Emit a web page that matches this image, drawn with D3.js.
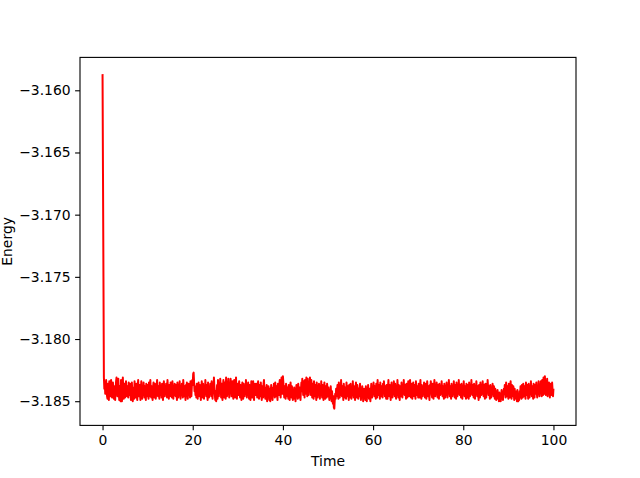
<!DOCTYPE html>
<html>
<head>
<meta charset="utf-8">
<script src="https://cdn.jsdelivr.net/npm/d3@7/dist/d3.min.js"></script>
<style>
  html, body { margin: 0; padding: 0; background: #fff; }
  svg { display: block; }
  text { font-family: "DejaVu Sans", sans-serif; }
</style>
</head>
<body>
<svg id="chart" width="640" height="478"></svg>
<script>
// ---- Data ----
const timeStart = 0;
const timeStep = 0.1;
const energy = [
  -3.1587,
  -3.1668,-3.1750,-3.1831,-3.1840,-3.1835,-3.1844,-3.1838,-3.1833,-3.1842,-3.1846,
  -3.1848,-3.1836,-3.1843,-3.1849,-3.1834,-3.1841,-3.1846,-3.1837,-3.1833,-3.1844,
  -3.1847,-3.1839,-3.1835,-3.1842,-3.1848,-3.1838,-3.1844,-3.1849,-3.1840,-3.1834,
  -3.1831,-3.1840,-3.1846,-3.1836,-3.1832,-3.1843,-3.1849,-3.1838,-3.1845,-3.1850,
  -3.1833,-3.1844,-3.1850,-3.1839,-3.1831,-3.1842,-3.1848,-3.1836,-3.1841,-3.1847,
  -3.1837,-3.1834,-3.1843,-3.1846,-3.1838,-3.1842,-3.1847,-3.1835,-3.1840,-3.1845,
  -3.1836,-3.1844,-3.1849,-3.1841,-3.1835,-3.1843,-3.1850,-3.1846,-3.1839,-3.1848,
  -3.1834,-3.1840,-3.1847,-3.1843,-3.1836,-3.1845,-3.1849,-3.1838,-3.1833,-3.1842,
  -3.1846,-3.1837,-3.1844,-3.1849,-3.1840,-3.1834,-3.1843,-3.1848,-3.1839,-3.1845,
  -3.1835,-3.1842,-3.1847,-3.1838,-3.1844,-3.1849,-3.1836,-3.1841,-3.1846,-3.1837,
  -3.1843,-3.1848,-3.1835,-3.1840,-3.1846,-3.1833,-3.1842,-3.1847,-3.1838,-3.1844,
  -3.1849,-3.1839,-3.1835,-3.1843,-3.1847,-3.1836,-3.1841,-3.1848,-3.1844,-3.1837,
  -3.1833,-3.1842,-3.1846,-3.1838,-3.1844,-3.1848,-3.1835,-3.1840,-3.1845,-3.1839,
  -3.1847,-3.1836,-3.1842,-3.1849,-3.1840,-3.1834,-3.1843,-3.1846,-3.1838,-3.1844,
  -3.1836,-3.1841,-3.1847,-3.1833,-3.1839,-3.1845,-3.1848,-3.1837,-3.1843,-3.1846,
  -3.1835,-3.1844,-3.1840,-3.1847,-3.1834,-3.1842,-3.1848,-3.1838,-3.1845,-3.1836,
  -3.1841,-3.1846,-3.1837,-3.1843,-3.1849,-3.1835,-3.1840,-3.1847,-3.1839,-3.1844,
  -3.1834,-3.1843,-3.1848,-3.1838,-3.1845,-3.1836,-3.1842,-3.1847,-3.1833,-3.1840,
  -3.1846,-3.1838,-3.1844,-3.1849,-3.1837,-3.1842,-3.1835,-3.1843,-3.1848,-3.1839,
  -3.1836,-3.1844,-3.1840,-3.1847,-3.1834,-3.1841,-3.1846,-3.1838,-3.1833,-3.1837,
  -3.1828,-3.1827,-3.1835,-3.1842,-3.1838,-3.1845,-3.1840,-3.1847,-3.1836,-3.1843,
  -3.1848,-3.1839,-3.1835,-3.1844,-3.1846,-3.1837,-3.1842,-3.1849,-3.1840,-3.1834,
  -3.1843,-3.1847,-3.1836,-3.1841,-3.1848,-3.1838,-3.1844,-3.1833,-3.1840,-3.1846,
  -3.1837,-3.1843,-3.1849,-3.1835,-3.1842,-3.1847,-3.1839,-3.1844,-3.1836,-3.1841,
  -3.1846,-3.1834,-3.1840,-3.1848,-3.1836,-3.1843,-3.1831,-3.1838,-3.1845,-3.1849,
  -3.1842,-3.1850,-3.1844,-3.1837,-3.1848,-3.1833,-3.1841,-3.1846,-3.1835,-3.1843,
  -3.1832,-3.1839,-3.1847,-3.1836,-3.1844,-3.1849,-3.1838,-3.1833,-3.1842,-3.1847,
  -3.1835,-3.1843,-3.1848,-3.1831,-3.1840,-3.1846,-3.1837,-3.1844,-3.1832,-3.1841,
  -3.1847,-3.1836,-3.1843,-3.1832,-3.1839,-3.1846,-3.1841,-3.1834,-3.1844,-3.1848,
  -3.1837,-3.1833,-3.1842,-3.1847,-3.1839,-3.1831,-3.1844,-3.1848,-3.1836,-3.1841,
  -3.1845,-3.1838,-3.1834,-3.1843,-3.1847,-3.1837,-3.1842,-3.1849,-3.1840,-3.1835,
  -3.1844,-3.1848,-3.1836,-3.1841,-3.1846,-3.1838,-3.1843,-3.1833,-3.1840,-3.1847,
  -3.1839,-3.1844,-3.1835,-3.1842,-3.1848,-3.1837,-3.1845,-3.1849,-3.1841,-3.1834,
  -3.1843,-3.1847,-3.1838,-3.1834,-3.1844,-3.1849,-3.1840,-3.1836,-3.1845,-3.1842,
  -3.1836,-3.1841,-3.1847,-3.1839,-3.1834,-3.1843,-3.1848,-3.1837,-3.1842,-3.1846,
  -3.1835,-3.1844,-3.1849,-3.1838,-3.1842,-3.1847,-3.1836,-3.1833,-3.1841,-3.1845,
  -3.1848,-3.1839,-3.1844,-3.1837,-3.1850,-3.1842,-3.1846,-3.1838,-3.1843,-3.1849,
  -3.1840,-3.1850,-3.1845,-3.1837,-3.1847,-3.1842,-3.1849,-3.1839,-3.1844,-3.1836,
  -3.1842,-3.1847,-3.1835,-3.1841,-3.1846,-3.1838,-3.1844,-3.1849,-3.1836,-3.1840,
  -3.1845,-3.1837,-3.1833,-3.1842,-3.1847,-3.1838,-3.1831,-3.1836,-3.1844,-3.1830,
  -3.1835,-3.1842,-3.1847,-3.1838,-3.1844,-3.1848,-3.1836,-3.1841,-3.1846,-3.1839,
  -3.1843,-3.1848,-3.1837,-3.1842,-3.1849,-3.1840,-3.1835,-3.1844,-3.1847,-3.1838,
  -3.1844,-3.1849,-3.1841,-3.1846,-3.1839,-3.1848,-3.1843,-3.1850,-3.1842,-3.1837,
  -3.1845,-3.1840,-3.1848,-3.1836,-3.1843,-3.1847,-3.1839,-3.1844,-3.1849,-3.1841,
  -3.1835,-3.1842,-3.1832,-3.1838,-3.1845,-3.1834,-3.1841,-3.1847,-3.1833,-3.1840,
  -3.1844,-3.1831,-3.1837,-3.1846,-3.1832,-3.1839,-3.1845,-3.1835,-3.1842,-3.1831,
  -3.1838,-3.1845,-3.1833,-3.1840,-3.1847,-3.1836,-3.1843,-3.1848,-3.1834,-3.1841,
  -3.1846,-3.1837,-3.1843,-3.1849,-3.1835,-3.1841,-3.1847,-3.1838,-3.1844,-3.1836,
  -3.1842,-3.1848,-3.1839,-3.1844,-3.1834,-3.1841,-3.1847,-3.1837,-3.1843,-3.1849,
  -3.1840,-3.1835,-3.1844,-3.1848,-3.1838,-3.1843,-3.1847,-3.1836,-3.1842,-3.1846,
  -3.1839,-3.1845,-3.1849,-3.1841,-3.1847,-3.1838,-3.1844,-3.1850,-3.1842,-3.1848,
  -3.1852,-3.1846,-3.1855,-3.1856,-3.1849,-3.1844,-3.1848,-3.1840,-3.1846,-3.1843,
  -3.1837,-3.1844,-3.1848,-3.1835,-3.1842,-3.1847,-3.1839,-3.1845,-3.1833,-3.1841,
  -3.1846,-3.1838,-3.1843,-3.1849,-3.1836,-3.1842,-3.1847,-3.1839,-3.1844,-3.1848,
  -3.1835,-3.1841,-3.1846,-3.1838,-3.1844,-3.1849,-3.1837,-3.1842,-3.1847,-3.1836,
  -3.1843,-3.1848,-3.1840,-3.1845,-3.1834,-3.1841,-3.1847,-3.1838,-3.1844,-3.1849,
  -3.1839,-3.1835,-3.1843,-3.1847,-3.1837,-3.1844,-3.1848,-3.1840,-3.1846,-3.1842,
  -3.1836,-3.1844,-3.1849,-3.1841,-3.1846,-3.1838,-3.1843,-3.1850,-3.1845,-3.1840,
  -3.1847,-3.1842,-3.1849,-3.1838,-3.1845,-3.1850,-3.1841,-3.1846,-3.1837,-3.1844,
  -3.1848,-3.1840,-3.1845,-3.1850,-3.1842,-3.1836,-3.1843,-3.1847,-3.1839,-3.1844,
  -3.1835,-3.1841,-3.1846,-3.1838,-3.1843,-3.1848,-3.1836,-3.1842,-3.1847,-3.1833,
  -3.1840,-3.1845,-3.1837,-3.1842,-3.1848,-3.1835,-3.1841,-3.1846,-3.1838,-3.1843,
  -3.1847,-3.1836,-3.1842,-3.1834,-3.1840,-3.1846,-3.1838,-3.1844,-3.1848,-3.1837,
  -3.1843,-3.1848,-3.1839,-3.1833,-3.1841,-3.1846,-3.1837,-3.1844,-3.1849,-3.1840,
  -3.1835,-3.1842,-3.1847,-3.1838,-3.1844,-3.1834,-3.1841,-3.1846,-3.1836,-3.1843,
  -3.1848,-3.1839,-3.1844,-3.1833,-3.1840,-3.1847,-3.1837,-3.1843,-3.1849,-3.1838,
  -3.1842,-3.1846,-3.1835,-3.1841,-3.1847,-3.1838,-3.1844,-3.1833,-3.1840,-3.1845,
  -3.1837,-3.1843,-3.1848,-3.1836,-3.1842,-3.1847,-3.1839,-3.1834,-3.1844,-3.1846,
  -3.1838,-3.1833,-3.1842,-3.1847,-3.1836,-3.1843,-3.1848,-3.1840,-3.1835,-3.1844,
  -3.1846,-3.1837,-3.1841,-3.1848,-3.1834,-3.1842,-3.1845,-3.1838,-3.1843,-3.1847,
  -3.1836,-3.1842,-3.1847,-3.1839,-3.1833,-3.1844,-3.1848,-3.1837,-3.1841,-3.1846,
  -3.1838,-3.1844,-3.1835,-3.1842,-3.1847,-3.1836,-3.1843,-3.1848,-3.1840,-3.1834,
  -3.1841,-3.1846,-3.1838,-3.1844,-3.1849,-3.1837,-3.1842,-3.1834,-3.1840,-3.1845,
  -3.1847,-3.1836,-3.1843,-3.1848,-3.1838,-3.1833,-3.1842,-3.1846,-3.1839,-3.1844,
  -3.1835,-3.1841,-3.1847,-3.1837,-3.1843,-3.1848,-3.1836,-3.1842,-3.1845,-3.1838,
  -3.1844,-3.1834,-3.1840,-3.1846,-3.1838,-3.1843,-3.1848,-3.1836,-3.1841,-3.1847,
  -3.1839,-3.1845,-3.1835,-3.1842,-3.1847,-3.1837,-3.1843,-3.1833,-3.1840,-3.1846,
  -3.1838,-3.1843,-3.1848,-3.1836,-3.1842,-3.1846,-3.1839,-3.1844,-3.1834,-3.1841,
  -3.1847,-3.1837,-3.1843,-3.1848,-3.1835,-3.1841,-3.1846,-3.1838,-3.1844,-3.1833,
  -3.1840,-3.1845,-3.1837,-3.1842,-3.1847,-3.1836,-3.1843,-3.1848,-3.1839,-3.1844,
  -3.1834,-3.1841,-3.1846,-3.1838,-3.1843,-3.1848,-3.1836,-3.1842,-3.1847,-3.1837,
  -3.1843,-3.1848,-3.1835,-3.1841,-3.1846,-3.1838,-3.1844,-3.1833,-3.1840,-3.1845,
  -3.1837,-3.1843,-3.1847,-3.1836,-3.1842,-3.1848,-3.1839,-3.1844,-3.1834,-3.1841,
  -3.1846,-3.1838,-3.1843,-3.1849,-3.1837,-3.1842,-3.1847,-3.1835,-3.1841,-3.1845,
  -3.1838,-3.1844,-3.1834,-3.1840,-3.1846,-3.1837,-3.1843,-3.1848,-3.1836,-3.1842,
  -3.1847,-3.1836,-3.1842,-3.1833,-3.1839,-3.1845,-3.1838,-3.1844,-3.1848,-3.1837,
  -3.1842,-3.1847,-3.1839,-3.1844,-3.1836,-3.1841,-3.1846,-3.1838,-3.1843,-3.1848,
  -3.1840,-3.1845,-3.1849,-3.1842,-3.1847,-3.1841,-3.1848,-3.1844,-3.1850,-3.1843,
  -3.1849,-3.1844,-3.1850,-3.1846,-3.1841,-3.1848,-3.1843,-3.1849,-3.1845,-3.1840,
  -3.1844,-3.1837,-3.1842,-3.1847,-3.1835,-3.1841,-3.1846,-3.1838,-3.1843,-3.1848,
  -3.1836,-3.1842,-3.1847,-3.1839,-3.1834,-3.1843,-3.1848,-3.1837,-3.1842,-3.1846,
  -3.1838,-3.1844,-3.1849,-3.1840,-3.1846,-3.1842,-3.1848,-3.1843,-3.1850,-3.1841,
  -3.1847,-3.1850,-3.1844,-3.1849,-3.1842,-3.1846,-3.1838,-3.1844,-3.1848,-3.1837,
  -3.1842,-3.1847,-3.1836,-3.1841,-3.1846,-3.1838,-3.1843,-3.1848,-3.1835,-3.1840,
  -3.1845,-3.1837,-3.1843,-3.1848,-3.1836,-3.1842,-3.1847,-3.1839,-3.1844,-3.1834,
  -3.1841,-3.1846,-3.1838,-3.1843,-3.1848,-3.1836,-3.1842,-3.1847,-3.1837,-3.1844,
  -3.1839,-3.1835,-3.1843,-3.1847,-3.1838,-3.1844,-3.1834,-3.1841,-3.1846,-3.1837,
  -3.1842,-3.1834,-3.1840,-3.1846,-3.1833,-3.1839,-3.1845,-3.1831,-3.1837,-3.1844,
  -3.1830,-3.1838,-3.1845,-3.1834,-3.1841,-3.1832,-3.1846,-3.1837,-3.1843,-3.1835,
  -3.1842,-3.1847,-3.1836,-3.1843,-3.1839,-3.1845,-3.1835,-3.1841,-3.1846,-3.1840
];
const xTicks = [0, 20, 40, 60, 80, 100];
const yTicks = [-3.160, -3.165, -3.170, -3.175, -3.180, -3.185];
const xLabel = "Time";
const yLabel = "Energy";

// ---- Layout ----
const W = 640, H = 478;
const margin = { left: 80, right: 64, top: 57.4, bottom: 52.6 };
const svg = d3.select("#chart");

const series = energy.map((e, i) => ({ t: timeStart + i * timeStep, e }));

const tExt = d3.extent(series, d => d.t);
const eExt = d3.extent(series, d => d.e);
const tPad = (tExt[1] - tExt[0]) * 0.05;
const ePad = (eExt[1] - eExt[0]) * 0.05;

const x = d3.scaleLinear()
  .domain([tExt[0] - tPad, tExt[1] + tPad])
  .range([margin.left, W - margin.right]);
const y = d3.scaleLinear()
  .domain([eExt[0] - ePad, eExt[1] + ePad])
  .range([H - margin.bottom, margin.top]);

const fmtY = v => d3.format(".3f")(v).replace("-", "\u2212");

// line
const line = d3.line().x(d => x(d.t)).y(d => y(d.e));
svg.append("path")
  .datum(series)
  .attr("fill", "none")
  .attr("stroke", "#ff0000")
  .attr("stroke-width", 2)
  .attr("stroke-linejoin", "round")
  .attr("d", line);

// axes
const xAxis = d3.axisBottom(x).tickValues(xTicks).tickSize(4.9).tickPadding(4.5).tickFormat(d3.format("d"));
const yAxis = d3.axisLeft(y).tickValues(yTicks).tickSize(4.9).tickPadding(4.5).tickFormat(fmtY);

const gx = svg.append("g").attr("transform", `translate(0,${H - margin.bottom})`).call(xAxis);
const gy = svg.append("g").attr("transform", `translate(${margin.left},0)`).call(yAxis);
[gx, gy].forEach(g => {
  g.select(".domain").remove();
  g.selectAll(".tick line").attr("stroke", "#000").attr("stroke-width", 1.1);
  g.selectAll(".tick text").attr("fill", "#000").style("font-size", "13.9px").style("font-family", "'DejaVu Sans', sans-serif");
});

// frame
svg.append("rect")
  .attr("x", margin.left).attr("y", margin.top)
  .attr("width", W - margin.left - margin.right)
  .attr("height", H - margin.top - margin.bottom)
  .attr("fill", "none").attr("stroke", "#000").attr("stroke-width", 1.1);

// labels
svg.append("text")
  .attr("x", (margin.left + W - margin.right) / 2)
  .attr("y", 466)
  .attr("text-anchor", "middle")
  .style("font-size", "13.9px")
  .text(xLabel);
svg.append("text")
  .attr("transform", `translate(12,${(margin.top + H - margin.bottom) / 2}) rotate(-90)`)
  .attr("text-anchor", "middle")
  .style("font-size", "13.9px")
  .text(yLabel);
</script>
</body>
</html>
